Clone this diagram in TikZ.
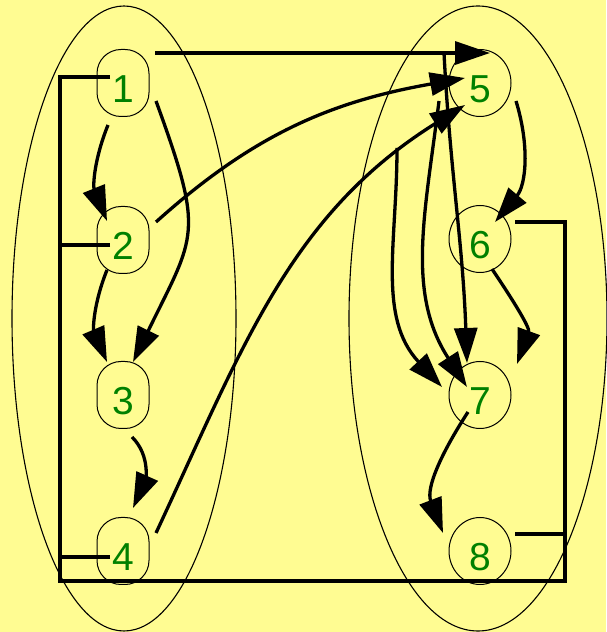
\documentclass[tikz,border=0pt]{standalone}
\usepackage{fontspec}
\setmainfont{Liberation Sans}
\usetikzlibrary{arrows.meta,shapes.geometric}

\definecolor{paper}{RGB}{255,252,146}
\definecolor{digit}{RGB}{0,128,0}

\begin{document}
\begin{tikzpicture}[x=1pt,y=1pt,
    every node/.style={draw=black,line width=1pt,text=digit,inner sep=0pt,
        font=\fontsize{39pt}{39pt}\selectfont,text height=40pt,text depth=0pt},
    leftnode/.style={rectangle,rounded corners=24pt,minimum width=52pt,minimum height=67pt},
    rightnode/.style={ellipse,minimum width=62pt,minimum height=67pt},
    arrowedge/.style={line width=3.3pt,-{Triangle[length=35pt,width=23pt]}},
    busline/.style={line width=3.3pt},
    group/.style={line width=1.1pt}
]
\useasboundingbox (0,0) rectangle (606,632);
\fill[paper] (0,0) rectangle (606,632);

\draw[group] (124,313.5) ellipse [x radius=112, y radius=312.5];
\draw[group] (478,313.5) ellipse [x radius=129, y radius=312.5];

\node[leftnode]  (n1) at (123,549) {1};
\node[leftnode]  (n2) at (123,392) {2};
\node[leftnode]  (n3) at (123,237) {3};
\node[leftnode]  (n4) at (123,81)  {4};
\node[rightnode] (n5) at (480,549) {5};
\node[rightnode] (n6) at (480,393) {6};
\node[rightnode] (n7) at (480,237) {7};
\node[rightnode] (n8) at (480,81)  {8};

\coordinate (fork) at (444,579);
\coordinate (loose) at (397,484);
\coordinate (bl) at (60,51);
\coordinate (br) at (565,51);

% bus along the outside
\draw[busline] ([shift={(-13,6)}]n1.center) -| (bl) -- (br) |- ([shift={(35,17)}]n6.center);
\draw[busline] ([shift={(-13,-5)}]n2.center) -- ++(-50,0);
\draw[busline] ([shift={(-13,-6)}]n4.center) -- ++(-50,0);
\draw[busline] ([shift={(35,17)}]n8.center) -- ++(50,0);

\path[arrowedge]
    ([shift={(-15,-42)}]n1.center) edge[out=248,in=112] ([shift={(-16,19)}]n2.center)
    ([shift={(-16,-30)}]n2.center) edge[out=248,in=113] ([shift={(-16,33)}]n3.center)
    ([shift={(33,-18)}]n1.center) edge[out=290,in=64,looseness=1.4] ([shift={(10,33)}]n3.center)
    ([shift={(9,-42)}]n3.center) edge[out=315,in=66] ([shift={(10,43)}]n4.center)
    ([shift={(33,18)}]n2.center) edge[out=42,in=190] ([shift={(-15,5)}]n5.center)
    ([shift={(33,18)}]n4.center) edge[out=65,in=212] ([shift={(-15,-22)}]n5.center)
    ([shift={(32,30)}]n1.center) edge ([shift={(10,30)}]n5.center)
    (fork) edge[out=-87,in=92] ([shift={(-13,32)}]n7.center)
    ([shift={(-41,-18)}]n5.center) edge[out=263,in=123] ([shift={(-13,8)}]n7.center)
    (loose) edge[out=270,in=133] ([shift={(-38,8)}]n7.center)
    ([shift={(36,-18)}]n5.center) edge[out=287,in=50] ([shift={(15,17)}]n6.center)
    ([shift={(12,-30)}]n6.center) edge[out=304,in=70] ([shift={(37,31)}]n7.center)
    ([shift={(-12,-17)}]n7.center) edge[out=237,in=111] ([shift={(-37,18)}]n8.center);
\end{tikzpicture}
\end{document}
